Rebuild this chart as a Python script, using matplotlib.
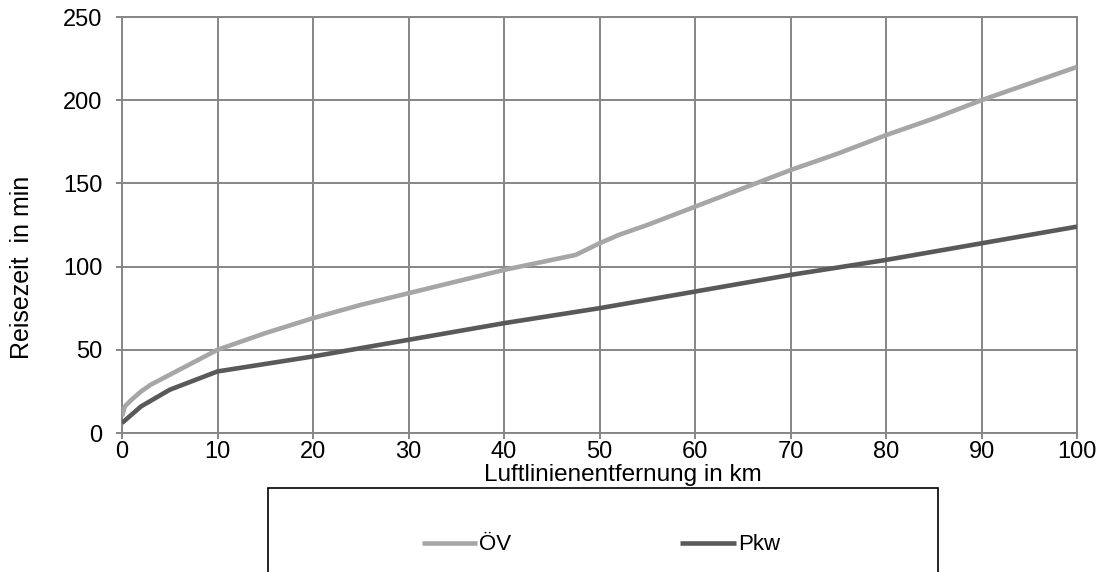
import matplotlib
matplotlib.use("Agg")
import matplotlib.pyplot as plt
from matplotlib.patches import Rectangle

plt.rcParams['font.family'] = ['Liberation Sans', 'DejaVu Sans']

# Travel time by straight-line distance
oev_km = [0, 0.3, 1, 2, 3, 5, 7.5, 10, 15, 20, 25, 30, 35, 40, 45, 47.5,
          50, 52, 55, 60, 65, 70, 75, 80, 85, 90, 95, 100]
oev_min = [10, 16, 20, 25, 29, 35, 42.5, 50, 60, 69, 77, 84, 91, 98, 104, 107,
           114, 119, 125, 136, 147, 158, 168, 179, 189, 200, 210, 220]

pkw_km = [0, 2, 5, 10, 20, 30, 40, 50, 60, 70, 80, 90, 100]
pkw_min = [6, 16, 26, 37, 46, 56, 66, 75, 85, 95, 104, 114, 124]

x_ticks = list(range(0, 101, 10))
y_ticks = list(range(0, 251, 50))

oev_color = '#A6A6A6'
pkw_color = '#595959'
grid_color = '#868686'

W, H = 1105, 572
fig = plt.figure(figsize=(W / 100, H / 100), dpi=100)
ax = fig.add_axes([122 / W, 1 - 433 / H, (1077 - 122) / W, (433 - 17) / H])

l1, = ax.plot(oev_km, oev_min, color=oev_color, lw=3.3, solid_capstyle='butt',
              solid_joinstyle='round', label='ÖV', zorder=3)
l2, = ax.plot(pkw_km, pkw_min, color=pkw_color, lw=3.3, solid_capstyle='butt',
              solid_joinstyle='round', label='Pkw', zorder=3)

ax.set_xlim(0, 100)
ax.set_ylim(0, 250)
ax.set_xticks(x_ticks)
ax.set_yticks(y_ticks)
ax.grid(True, color=grid_color, lw=1.4)
ax.set_axisbelow(True)
for s in ax.spines.values():
    s.set_color(grid_color)
    s.set_linewidth(1.4)
ax.tick_params(axis='both', colors=grid_color, labelcolor='black',
               labelsize=17, length=4, width=1.4, direction='out')
ax.tick_params(axis='y', pad=10)
ax.tick_params(axis='x', pad=2)

ax.set_xlabel('Luftlinienentfernung in km', fontsize=17.5)
ax.set_ylabel('Reisezeit  in min', fontsize=18)
# axis titles are placed in figure pixels
ax.xaxis.set_label_coords(623 / W, 1 - 475 / H, transform=fig.transFigure)
ax.xaxis.label.set_va('center')
ax.yaxis.set_label_coords(22 / W, 1 - 267 / H, transform=fig.transFigure)
ax.yaxis.label.set_va('center')

# Legend frame below the plot area
fig.patches.append(Rectangle((268 / W, -0.1), (938 - 268) / W, 0.1 + (572 - 488) / H,
                             transform=fig.transFigure, fill=False,
                             edgecolor='black', lw=1.2))
fig.legend(handles=[l1, l2], loc='center', ncol=2,
           bbox_to_anchor=(601 / W, 1 - 545 / H), frameon=False,
           fontsize=16, handlelength=2.5, handletextpad=0.1,
           columnspacing=7.6)

fig.savefig('out.png', dpi=100)
